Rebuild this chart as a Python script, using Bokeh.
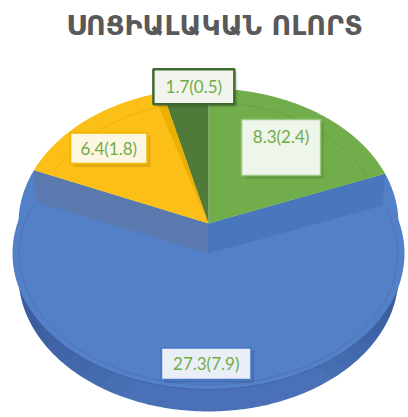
import numpy as np
from bokeh.plotting import figure
from bokeh.models import Range1d
from bokeh.embed import file_html
from bokeh.resources import INLINE
from bokeh.core.properties import value

title_text = "ՍՈՑԻԱԼԱԿԱՆ ՈԼՈՐՏ"
values = [8.3, 27.3, 6.4, 1.7]
shares = [2.4, 7.9, 1.8, 0.5]
colors = ["#72ad4c", "#5480c8", "#fbbf17", "#4f7a3a"]

W, H = 408, 417
p = figure(width=W, height=H, x_range=Range1d(0, W), y_range=Range1d(H, 0),
           output_backend="svg", toolbar_location=None, min_border=0,
           x_axis_location=None, y_axis_location=None)
p.grid.visible = False
p.outline_line_color = None

tot = sum(values)
ends = np.cumsum(values) / tot * 2 * np.pi
starts = ends - np.array(values) / tot * 2 * np.pi

C1 = (208.0, 223.0); RX1, RY1 = 190.0, 135.0
C2 = (208.0, 253.0); RX2, RY2 = 196.0, 136.0
C3 = (208.0, 275.0); RX3, RY3 = 190.0, 136.0


def arc(c, rx, ry, a0, a1, n=180, s=1.0):
    t = np.linspace(a0, a1, n)
    return list(c[0] + s * rx * np.sin(t)), list(c[1] - s * ry * np.cos(t))


def sector(c, rx, ry, a0, a1, s=1.0):
    ax, ay = arc(c, rx, ry, a0, a1, s=s)
    return [c[0]] + ax + [c[0]], [c[1]] + ay + [c[1]]


def pt(c, rx, ry, a, s=1.0):
    return c[0] + s * rx * np.sin(a), c[1] - s * ry * np.cos(a)


bi = 1
a0, a1 = starts[bi], ends[bi]
blue = colors[bi]

# upper blue sector (fills slivers)
xs, ys = sector(C1, RX1, RY1, a0, a1)
p.patch(xs, ys, fill_color=blue, line_color=None)

# side band of the blue slice (bottom ellipse, drawn beneath the top face)
b0, b1 = max(a0, np.pi / 2), min(a1, 3 * np.pi / 2)
fx, fy = arc(C3, RX3, RY3, b0, b1)
p.patch([C3[0]] + fx + [C3[0]], [C3[1]] + fy + [C3[1]], fill_color="#4a70b7", line_color=None)
# darker shading toward the sides
steps = 8
for k in range(steps):
    w = (np.pi / 2) * (1 - k / steps)
    for lo, hi in [(np.pi / 2 + 0.0, np.pi / 2 + w * 0.55), (3 * np.pi / 2 - w * 0.7, 3 * np.pi / 2)]:
        sx, sy = arc(C3, RX3, RY3, lo, hi, n=60)
        p.patch([C3[0]] + sx + [C3[0]], [C3[1]] + sy + [C3[1]], fill_color="#1a2f5a",
                fill_alpha=0.045, line_color=None)

# lower blue top face
xs, ys = sector(C2, RX2, RY2, a0, a1)
p.patch(xs, ys, fill_color=blue, line_color=None)
# front edge line
ex, ey = arc(C2, RX2, RY2, np.pi * 0.62, np.pi * 1.38)
p.line(ex, ey, line_color="#3c5f9e", line_width=1, line_alpha=0.8)
# bevel line on lower face
ix, iy = arc(C2, RX2, RY2, a0 + 0.03, a1 - 0.03, s=0.965)
p.line(ix, iy, line_color="#456dac", line_width=1, line_alpha=0.6)

# walls
ux, uy = pt(C1, RX1, RY1, a0)
lx, ly = pt(C2, RX2, RY2, a0, s=0.956)
p.patch([C1[0], ux, lx, C2[0]], [C1[1], uy, ly, C2[1]], fill_color="#4877be", line_color=None)
ux, uy = pt(C1, RX1, RY1, a1)
lx, ly = pt(C2, RX2, RY2, a1, s=0.956)
p.patch([C1[0], ux, lx, C2[0]], [C1[1], uy, ly, C2[1]], fill_color="#5a79ae", line_color=None)
p.line([C1[0], C2[0]], [C1[1], C2[1]], line_color="#4a70b0", line_width=1, line_alpha=0.5)

# upper slices
for i in (0, 2, 3):
    xs, ys = sector(C1, RX1, RY1, starts[i], ends[i])
    p.patch(xs, ys, fill_color=colors[i], line_color=None)

# bevel details on upper slices
ix, iy = arc(C1, RX1, RY1, starts[0] + 0.05, ends[0] - 0.02, s=0.9)
p.line(ix, iy, line_color="#5f9a3c", line_width=1, line_alpha=0.6)
ix, iy = arc(C1, RX1, RY1, starts[2] + 0.04, ends[2] - 0.06, s=0.9)
p.line(ix, iy, line_color="#e6ad00", line_width=1, line_alpha=0.7)
ix, iy = arc(C1, RX1, RY1, starts[3] + 0.02, ends[3] - 0.01, s=0.9)
p.line(ix, iy, line_color="#3f6530", line_width=1, line_alpha=0.6)
# darker yellow stripe along boundary with dark green
xs, ys = sector(C1, RX1, RY1, ends[2] - 0.05, ends[2])
p.patch(xs, ys, fill_color="#e9b000", line_color=None)

# labels
rfac = [0.68, 0.81, 0.81, 1.02]
nudge = [(0, 0), (0, 0), (0, 8), (9, 0)]
centers = [C1, C2, C1, C1]
radii = [(RX1, RY1), (RX2, RY2), (RX1, RY1), (RX1, RY1)]
box_wh = [(79, 56), (90, 32), (77, 31), (81, 35)]
text_dy = [-11, 0, 0, 0]
box_fill = ["#eef5ea", "#e9eef7", "#fdf6e2", "#f1f5ee"]
box_line = ["#9cc97f", "#4a78c8", "#f2b600", "#3f6a2e"]
box_lw = [1.5, 2, 2, 2.5]
for i, (v, s) in enumerate(zip(values, shares)):
    mid = (starts[i] + ends[i]) / 2
    x, y = pt(centers[i], radii[i][0], radii[i][1], mid, s=rfac[i])
    x += nudge[i][0]; y += nudge[i][1]
    bw, bh = box_wh[i]
    p.rect([x + 3], [y + 3], width=bw, height=bh, fill_color="black", fill_alpha=0.12, line_color=None)
    p.rect([x], [y], width=bw, height=bh, fill_color=box_fill[i], line_color=box_line[i], line_width=box_lw[i])
    p.text([x], [y + text_dy[i]], text=[f"{v}({s})"], text_align="center", text_baseline="middle",
           text_font=value("Lato"), text_font_size="17px", text_color="#70ad47")

p.text([214], [25], text=[title_text], text_align="center", text_baseline="middle",
       text_font=value("DejaVu Sans"), text_font_style="bold", text_font_size="27px", text_color="#595959")

open("out.html", "w").write(file_html(p, INLINE))
